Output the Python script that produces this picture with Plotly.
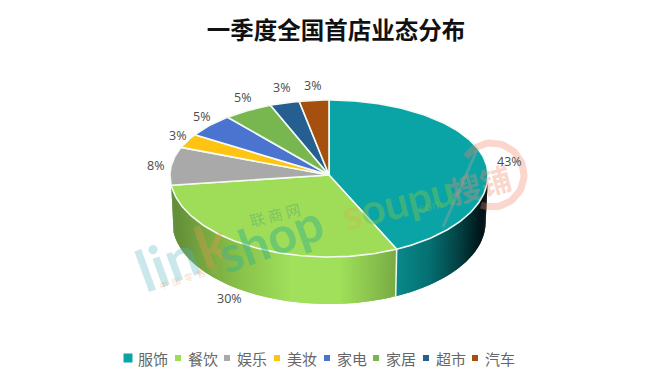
import math
import plotly.graph_objects as go

title = "一季度全国首店业态分布"
categories = ["服饰", "餐饮", "娱乐", "美妆", "家电", "家居", "超市", "汽车"]
values = [43, 30, 8, 3, 5, 5, 3, 3]
labels = ["43%", "30%", "8%", "3%", "5%", "5%", "3%", "3%"]
colors = ["#0AA4A6", "#9FDD58", "#A9A9A9", "#FFC412", "#4A74D0", "#78B64F", "#255E91", "#A5500F"]

# style / geometry of the tilted pie, in page pixels
CX, CY, RX, RY_BACK, RY_FRONT, DEPTH = 329, 175, 159, 75, 82, 47
BOTTOM_SCALE = 0.985


def rim(theta_deg, scale=1.0, dy=0.0):
    t = math.radians(theta_deg)
    s, c = math.sin(t), math.cos(t)
    ry = RY_BACK if c >= 0 else RY_FRONT
    return CX + RX * s * scale, CY - ry * c + dy


def ramp(stops, x):
    if x <= stops[0][0]:
        return "rgb(%d,%d,%d)" % stops[0][1]
    for (x0, c0), (x1, c1) in zip(stops, stops[1:]):
        if x <= x1:
            f = (x - x0) / (x1 - x0)
            return "rgb(%d,%d,%d)" % tuple(c0[i] + (c1[i] - c0[i]) * f for i in range(3))
    return "rgb(%d,%d,%d)" % stops[-1][1]


side_ramps = {
    0: [(397, (10, 138, 138)), (430, (6, 112, 114)), (462, (4, 62, 64)), (484, (1, 18, 20)), (489, (0, 10, 12))],
    1: [(170, (96, 138, 56)), (200, (116, 166, 64)), (240, (138, 194, 74)), (290, (160, 224, 92)),
        (340, (160, 224, 90)), (375, (136, 192, 76)), (398, (120, 170, 68))],
}

fig = go.Figure()
total = sum(values)

# slice angles from values
angles = [0.0]
for v in values:
    angles.append(angles[-1] + 360.0 * v / total)

# visible front wall: strips overlap the next one so no seams show
for idx in (0, 1):
    start, end = max(angles[idx], 90), min(angles[idx + 1], 270)
    n = int((end - start) / 1.0) + 1
    step = (end - start) / n
    for k in range(n):
        a0 = start + step * k
        a1 = min(a0 + step * 2, end)
        mid = rim(a0 + step / 2)
        pts = [rim(a0), rim(a1)]
        low = [rim(a0, BOTTOM_SCALE, DEPTH), rim(a1, BOTTOM_SCALE, DEPTH)]
        col = ramp(side_ramps[idx], mid[0])
        fig.add_trace(go.Scatter(
            x=[pts[0][0], pts[1][0], low[1][0], low[0][0], pts[0][0]],
            y=[pts[0][1], pts[1][1], low[1][1], low[0][1], pts[0][1]],
            mode="lines", fill="toself", fillcolor=col, line=dict(width=0),
            hoverinfo="skip", showlegend=False))

# separator on the wall
p, q = rim(angles[1]), rim(angles[1], BOTTOM_SCALE, DEPTH)
fig.add_trace(go.Scatter(x=[p[0], q[0]], y=[p[1], q[1]], mode="lines",
                         line=dict(color="#EFFBEF", width=1.5), hoverinfo="skip", showlegend=False))

# top face slices
for i, (cat, col) in enumerate(zip(categories, colors)):
    a0, a1 = angles[i], angles[i + 1]
    n = max(int((a1 - a0) / 1.0), 2)
    pts = [rim(a0 + (a1 - a0) * k / n) for k in range(n + 1)]
    xs = [CX] + [p[0] for p in pts] + [CX]
    ys = [CY] + [p[1] for p in pts] + [CY]
    fig.add_trace(go.Scatter(x=xs, y=ys, mode="lines", fill="toself", fillcolor=col,
                             line=dict(color="#F4FBF2", width=1.6), name=cat,
                             hovertemplate=cat + " " + labels[i] + "<extra></extra>", showlegend=False))

# data labels placed radially around each slice's middle angle
label_fx = [1.16, 1.30, 1.10, 1.07, 1.07, 1.07, 1.07, 1.07]
label_fy = [1.00, 1.07, 1.00, 1.17, 1.17, 1.20, 1.21, 1.20]
label_dy = [3, DEPTH, 0, 0, 0, 0, 0, 0]
ann = []
for i, lab in enumerate(labels):
    mid = math.radians((angles[i] + angles[i + 1]) / 2)
    s, c = math.sin(mid), math.cos(mid)
    ry = RY_BACK if c >= 0 else RY_FRONT
    ann.append(dict(x=CX + RX * s * label_fx[i], y=CY - ry * c * label_fy[i] + label_dy[i], text=lab,
                    showarrow=False, xref="x", yref="y", xanchor="center", yanchor="middle",
                    font=dict(family="Open Sans, Noto Sans", size=12.5, color="#4A4A4A")))

# hand-placed legend row
legend_x = [128, 178, 227, 277, 327, 376, 426, 475]
legend_size = [9, 6, 6, 6, 6, 6, 6, 6]
legend_y = 358
fig.add_trace(go.Scatter(x=legend_x, y=[legend_y] * len(legend_x), mode="markers",
                         marker=dict(symbol="square", size=legend_size, color=colors, opacity=1, line=dict(width=0)),
                         hoverinfo="skip", showlegend=False))
for lx, ls, cat in zip(legend_x, legend_size, categories):
    ann.append(dict(x=lx + (8 if ls > 6 else 8), y=legend_y, text=cat, showarrow=False, xanchor="left",
                    yanchor="middle", xref="x", yref="y",
                    font=dict(family="Noto Sans CJK SC", size=15, color="#666666")))


# watermarks
def wm(x, y, text, size, color, angle, bold=True, family="Lato"):
    ann.append(dict(x=x, y=y, text=("<b>%s</b>" % text) if bold else text, showarrow=False, textangle=angle,
                    xref="x", yref="y", xanchor="center", yanchor="middle",
                    font=dict(family=family, size=size, color=color)))


wm(167, 261, "lin", 58, "rgba(90,180,195,0.32)", -20)
wm(211, 243, "k", 58, "rgba(240,150,80,0.32)", -20)
wm(270, 238, "shop", 50, "rgba(60,180,135,0.50)", -20)
wm(275, 214, "联 商 网", 15, "rgba(60,160,110,0.40)", -14, False, "Noto Sans CJK SC")
wm(188, 277, "中  国  零  售  业", 9, "rgba(240,150,100,0.35)", -18, False, "Noto Sans CJK SC")
wm(398, 202, "<span style='color:rgba(240,150,70,0.45)'>s</span>oupu", 42, "rgba(110,190,90,0.50)", -14)
wm(428, 206, ".com", 13, "rgba(110,190,90,0.45)", -14, False)
wm(480, 183, "搜铺", 31, "rgba(240,140,110,0.35)", -15, True, "Noto Sans CJK SC")

# ring of the right-hand logo, open where it meets the pie
ring_deg = list(range(-55, 205, 5))
fig.add_trace(go.Scatter(
    x=[492 + 32 * math.sin(math.radians(d)) for d in ring_deg],
    y=[175 - 32 * math.cos(math.radians(d)) for d in ring_deg],
    mode="lines", line=dict(color="rgba(240,130,100,0.33)", width=7), hoverinfo="skip", showlegend=False))
fig.add_shape(type="line", x0=443, y0=227, x1=477, y1=150, xref="x", yref="y",
              line=dict(color="rgba(150,160,150,0.45)", width=3), layer="above")

fig.update_layout(
    width=660, height=388, margin=dict(l=0, r=0, t=0, b=0),
    paper_bgcolor="white", plot_bgcolor="white", showlegend=False,
    title=dict(text="<b>" + title + "</b>", x=336 / 660, y=1 - 31 / 388, xanchor="center", yanchor="middle",
               font=dict(family="Noto Sans CJK SC", size=23.5, color="#111111")),
    xaxis=dict(range=[0, 660], visible=False, fixedrange=True),
    yaxis=dict(range=[388, 0], visible=False, fixedrange=True),
    annotations=ann,
)
fig.write_html("out.html", config=dict(displayModeBar=False),
               post_script="document.body.style.margin='0';document.body.style.overflow='hidden';")
